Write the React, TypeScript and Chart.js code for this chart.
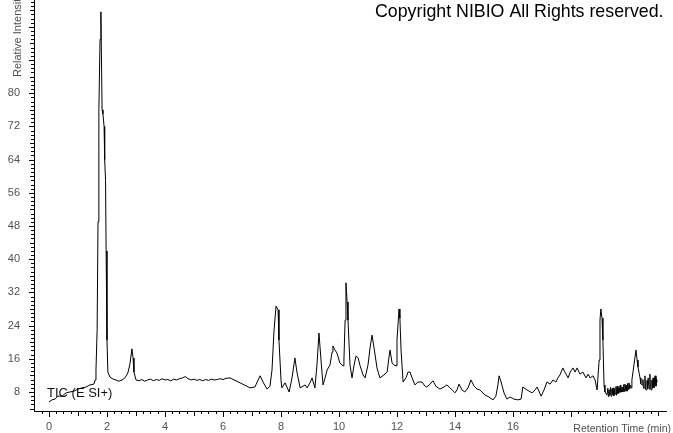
import React, { useEffect, useRef } from "react";
import { Chart, registerables } from "chart.js";

Chart.register(...registerables);

// Retention time (min)
const retentionTimes = [
  0.0, 0.1, 0.21, 0.31, 0.45, 0.59, 0.72, 0.86, 1.0, 1.14, 1.28, 1.41, 1.55, 1.59, 1.62, 1.66, 1.69, 1.72, 1.76, 1.79,
  1.81, 1.83, 1.86, 1.9, 1.91, 1.93, 1.95, 1.97, 2.0, 2.03, 2.1, 2.21, 2.31, 2.41, 2.52, 2.62, 2.72, 2.79, 2.86, 2.9,
  2.93, 3.0, 3.1, 3.2, 3.3, 3.4, 3.5, 3.6, 3.7, 3.8, 3.9, 4.0, 4.1, 4.2, 4.3, 4.4, 4.5, 4.6, 4.7, 4.8,
  4.9, 5.0, 5.1, 5.2, 5.3, 5.4, 5.5, 5.6, 5.7, 5.8, 5.9, 6.0, 6.1, 6.24, 6.59, 6.93, 7.1, 7.28, 7.38, 7.52,
  7.62, 7.69, 7.76, 7.83, 7.9, 7.93, 8.0, 8.03, 8.14, 8.28, 8.38, 8.48, 8.55, 8.66, 8.76, 8.83, 8.9, 9.0, 9.07, 9.17,
  9.24, 9.31, 9.38, 9.45, 9.52, 9.59, 9.69, 9.76, 9.79, 9.86, 9.93, 10.03, 10.14, 10.17, 10.21, 10.24, 10.28, 10.31, 10.38, 10.45,
  10.52, 10.59, 10.66, 10.72, 10.83, 10.9, 11.0, 11.07, 11.14, 11.21, 11.31, 11.41, 11.55, 11.66, 11.72, 11.76, 11.83, 11.9, 11.97, 12.0,
  12.07, 12.1, 12.14, 12.21, 12.31, 12.38, 12.45, 12.52, 12.62, 12.72, 12.86, 12.97, 13.03, 13.14, 13.24, 13.34, 13.48, 13.62, 13.72, 13.83,
  14.0, 14.07, 14.14, 14.24, 14.34, 14.45, 14.55, 14.66, 14.76, 14.86, 15.03, 15.17, 15.31, 15.41, 15.48, 15.52, 15.59, 15.69, 15.79, 15.9,
  16.03, 16.17, 16.28, 16.34, 16.48, 16.66, 16.76, 16.83, 16.97, 17.07, 17.17, 17.28, 17.38, 17.48, 17.55, 17.62, 17.72, 17.79, 17.9, 17.97,
  18.07, 18.14, 18.21, 18.31, 18.41, 18.52, 18.59, 18.66, 18.76, 18.83, 18.9, 18.97, 19.0, 19.03, 19.07, 19.1, 19.14, 19.17, 19.24,
];

// Relative intensity (%)
const relativeIntensity = [
  5.6, 6.1, 6.3, 7.0, 7.0, 7.8, 8.0, 8.2, 8.7, 9.0, 9.2, 9.7, 9.9, 10.9, 13.3, 23.0, 49.0, 76.0, 93.0, 99.6,
  88.0, 76.0, 75.0, 72.0, 66.0, 64.0, 59.0, 42.0, 20.5, 12.8, 11.6, 11.1, 10.9, 10.6, 10.9, 11.4, 12.6, 14.7, 18.4, 16.2,
  12.8, 10.9, 10.7, 11.0, 10.6, 10.9, 11.1, 10.7, 11.0, 10.8, 11.2, 10.9, 11.0, 10.7, 11.1, 10.9, 11.2, 11.4, 11.7, 11.2,
  10.9, 11.1, 10.8, 11.0, 10.7, 11.0, 10.8, 11.1, 10.9, 11.0, 11.2, 11.0, 11.3, 11.4, 10.2, 9.0, 9.2, 11.9, 10.4, 8.7,
  9.4, 13.3, 22.9, 28.7, 27.8, 20.5, 10.9, 9.0, 10.2, 8.0, 11.4, 16.2, 12.8, 9.0, 9.4, 9.7, 9.0, 10.2, 11.4, 9.0,
  14.5, 22.2, 15.7, 9.7, 11.4, 13.3, 14.5, 17.6, 19.1, 18.1, 17.4, 15.0, 14.3, 15.7, 25.3, 34.3, 29.7, 25.3, 14.5, 11.4,
  14.5, 16.7, 16.2, 14.5, 12.1, 11.4, 14.5, 18.6, 21.7, 18.6, 13.8, 11.4, 12.1, 12.8, 16.2, 18.1, 15.0, 14.5, 14.3, 20.5,
  28.0, 25.8, 18.1, 10.4, 11.4, 12.8, 12.8, 11.4, 9.7, 10.4, 10.4, 9.4, 9.2, 9.9, 10.7, 9.4, 8.7, 9.2, 9.7, 9.0,
  7.8, 8.5, 9.9, 8.5, 8.0, 9.0, 10.9, 9.4, 8.7, 8.5, 7.3, 6.8, 6.1, 7.0, 9.7, 11.9, 10.4, 7.8, 6.3, 6.8,
  6.3, 6.1, 6.3, 9.2, 8.5, 7.8, 8.5, 9.2, 7.0, 8.5, 10.4, 9.9, 10.9, 10.4, 11.4, 12.1, 13.8, 12.8, 11.4, 12.8,
  13.8, 12.8, 13.8, 12.3, 12.8, 11.4, 12.3, 11.4, 11.9, 10.9, 8.5, 15.7, 25.3, 28.0, 25.8, 20.5, 9.7, 8.0, 7.3,
];

// Noisy tail of the run (19.3 – 21 min)
const tailTimes = [
  19.27, 19.29, 19.31, 19.34, 19.36, 19.38, 19.41, 19.43, 19.45, 19.48,
  19.5, 19.52, 19.55, 19.57, 19.59, 19.62, 19.64, 19.66, 19.69, 19.71,
  19.72, 19.75, 19.77, 19.79, 19.82, 19.84, 19.86, 19.89, 19.91, 19.93,
  19.96, 19.98, 20.0, 20.03, 20.05, 20.07, 20.1, 20.17, 20.24, 20.28,
  20.31, 20.38, 20.41, 20.45, 20.48, 20.5, 20.52, 20.55, 20.57, 20.59,
  20.62, 20.64, 20.66, 20.69, 20.72, 20.74, 20.76, 20.79, 20.81, 20.83,
  20.86, 20.88, 20.9, 20.93, 20.95, 20.97,
];
const tailIntensity = [
  8.9, 6.9, 8.5, 7.2, 9.1, 7.0, 8.8, 7.4, 9.0, 7.1,
  8.6, 7.5, 9.3, 7.2, 9.4, 7.6, 8.9, 7.8, 9.5, 7.9,
  9.7, 8.0, 9.2, 8.0, 9.8, 8.1, 9.9, 8.3, 9.6, 8.2,
  10.1, 8.6, 10.2, 8.8, 9.6, 9.0, 10.9, 14.5, 18.1, 15.7,
  14.0, 11.4, 10.0, 9.7, 11.0, 8.9, 9.0, 11.9, 8.6, 8.5,
  10.8, 8.8, 11.4, 8.7, 12.3, 9.1, 8.5, 10.9, 8.9, 11.4,
  9.0, 10.6, 11.9, 9.4, 11.2, 10.4,
];

const xTickLabels = [0, 2, 4, 6, 8, 10, 12, 14, 16];
const yTickLabels = [8, 16, 24, 32, 40, 48, 56, 64, 72, 80];

const traceLabel = "TIC (E SI+)";
const copyrightText = "Copyright NIBIO All Rights reserved.";
const xAxisTitle = "Retention Time (min)";
const yAxisTitle = "Relative Intensity";

const FONT = "'Liberation Sans', Arial, sans-serif";
const GRAY = "#505050";

export default function App() {
  const ref = useRef<HTMLCanvasElement>(null);

  useEffect(() => {
    const canvas = ref.current;
    if (!canvas) return;

    const allTimes = retentionTimes.concat(tailTimes);
    const allValues = relativeIntensity.concat(tailIntensity);

    const decor = {
      id: "decor",
      afterDraw(chart: any) {
        const { ctx, chartArea, scales } = chart;
        const xs = scales.x;
        const ys = scales.y;
        ctx.save();
        ctx.strokeStyle = "#000";
        ctx.lineWidth = 1;
        ctx.beginPath();
        for (let v = 4; v <= 102; v++) {
          const y = Math.round(ys.getPixelForValue(v)) + 0.5;
          const len = v % 8 === 0 ? 5 : v % 4 === 0 ? 4 : 3;
          ctx.moveTo(chartArea.left - len, y);
          ctx.lineTo(chartArea.left, y);
        }
        for (let i = -1; i <= 84; i++) {
          const t = i * 0.25;
          const x = Math.round(xs.getPixelForValue(t)) + 0.5;
          const len = i % 8 === 0 ? 6 : i % 4 === 0 ? 5 : 3;
          ctx.moveTo(x, chartArea.bottom);
          ctx.lineTo(x, chartArea.bottom + len);
        }
        ctx.stroke();

        // y axis title (rotated)
        ctx.fillStyle = GRAY;
        ctx.font = `11px ${FONT}`;
        ctx.save();
        ctx.translate(18, 77);
        ctx.rotate(-Math.PI / 2);
        ctx.textAlign = "left";
        ctx.textBaseline = "middle";
        ctx.fillText(yAxisTitle, 0, 0);
        ctx.restore();

        // x axis title
        ctx.font = `10.5px ${FONT}`;
        ctx.textAlign = "right";
        ctx.textBaseline = "alphabetic";
        ctx.fillText(xAxisTitle, 671, 432);

        // copyright
        ctx.fillStyle = "#000";
        ctx.font = `17.8px ${FONT}`;
        ctx.textAlign = "left";
        ctx.fillText(copyrightText, 375, 17);

        // trace label
        ctx.fillStyle = "#111";
        ctx.font = `13px ${FONT}`;
        ctx.fillText(traceLabel, 47, 397);
        ctx.restore();
      },
    };

    const chart = new Chart(canvas, {
      type: "line",
      data: {
        datasets: [
          {
            data: allTimes.map((t, i) => ({ x: t, y: allValues[i] })),
            borderColor: "#000",
            borderWidth: 1,
            pointRadius: 0,
            tension: 0,
            fill: false,
          },
        ],
      },
      options: {
        responsive: false,
        animation: false,
        events: [],
        layout: { padding: { top: 0, right: 7, left: 0, bottom: 0 } },
        plugins: { legend: { display: false }, tooltip: { enabled: false } },
        scales: {
          x: {
            type: "linear",
            min: -0.517,
            max: 21.276,
            grid: { display: false },
            border: { display: true, color: "#000", width: 1 },
            afterBuildTicks: (axis: any) => {
              axis.ticks = xTickLabels.map((v) => ({ value: v }));
            },
            afterFit: (axis: any) => {
              axis.height = 22;
              axis.paddingLeft = 0;
              axis.paddingRight = 0;
            },
            ticks: {
              autoSkip: false,
              maxRotation: 0,
              padding: 1,
              color: GRAY,
              font: { family: FONT, size: 11 },
              callback: (v: any) => String(v),
            },
          },
          y: {
            type: "linear",
            min: 3.42,
            max: 102.46,
            grid: { display: false },
            border: { display: true, color: "#000", width: 1 },
            afterBuildTicks: (axis: any) => {
              axis.ticks = yTickLabels.map((v) => ({ value: v }));
            },
            afterFit: (axis: any) => {
              axis.width = 34;
              axis.paddingTop = 0;
              axis.paddingBottom = 0;
            },
            ticks: {
              autoSkip: false,
              padding: 6,
              color: GRAY,
              font: { family: FONT, size: 11 },
              callback: (v: any) => String(v),
            },
          },
        },
      },
      plugins: [decor],
    });

    return () => chart.destroy();
  }, []);

  return (
    <div style={{ position: "fixed", left: 0, top: 0, width: 673, height: 433, background: "#fff" }}>
      <canvas ref={ref} width={673} height={433} style={{ display: "block" }} />
    </div>
  );
}
